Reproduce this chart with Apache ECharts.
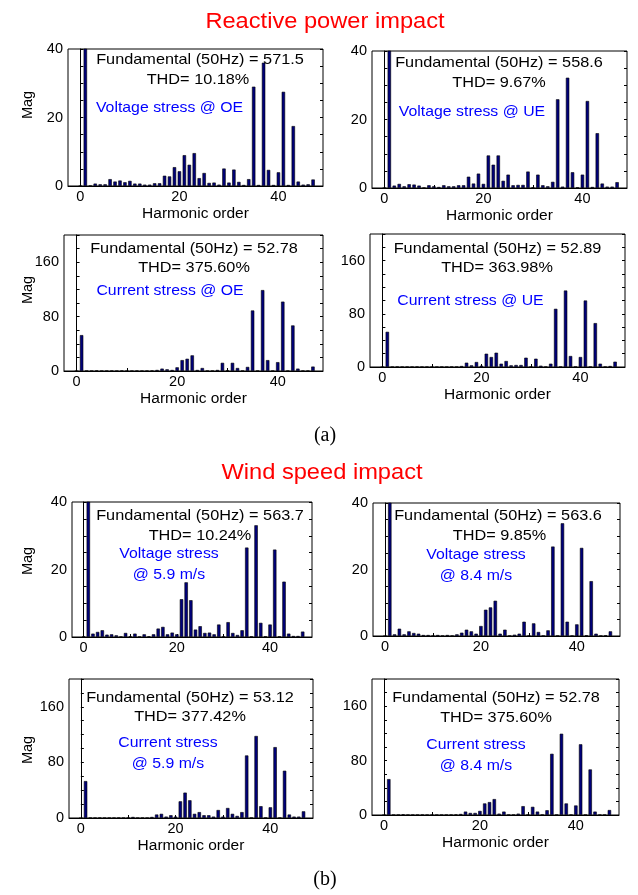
<!DOCTYPE html>
<html>
<head>
<meta charset="utf-8">
<script src="https://cdn.jsdelivr.net/npm/echarts@6/dist/echarts.min.js"></script>
<style>
html,body{margin:0;padding:0;background:#fff;}
#chart{width:638px;height:895px;}
</style>
</head>
<body>
<div id="chart"></div>
<script>
// ---------------- DATA ----------------
const harmonicOrder = [0,1,2,3,4,5,6,7,8,9,10,11,12,13,14,15,16,17,18,19,20,21,22,23,24,25,26,27,28,29,30,31,32,33,34,35,36,37,38,39,40,41,42,43,44,45,46,47];

// (a) Reactive power impact
const voltageOE = [0, 571.5, 0.1, 0.7, 0.5, 0.5, 2.0, 1.3, 1.6, 1.1, 1.5, 0.7, 0.7, 0.4, 0.4, 0.8, 0.8, 3.0, 2.8, 5.5, 4.3, 9.0, 6.2, 9.6, 2.3, 3.8, 0.9, 1.0, 0.4, 5.1, 1.0, 4.8, 1.2, 0.3, 2.0, 29, 0.3, 36, 4.7, 0.3, 4.0, 27.5, 0.3, 17.5, 1.3, 0.4, 0.5, 1.9];
const voltageUE = [0, 558.6, 0.7, 1.2, 0.5, 1.1, 1.0, 0.7, 0.1, 0.8, 0.5, 0.3, 0.8, 0.5, 0.5, 0.8, 0.8, 3.3, 1.3, 4.2, 1.2, 9.5, 6.8, 9.5, 2.1, 3.9, 0.8, 0.9, 0.9, 4.8, 0.2, 3.9, 0.8, 0.5, 1.8, 25.9, 0.4, 32.2, 4.6, 0.2, 3.9, 25.4, 0.3, 16, 1.3, 0.4, 0.4, 1.7];
const currentOE = [0, 52.78, 0.4, 0.3, 0.8, 0.3, 0.4, 0.5, 0.3, 0.6, 0.4, 0.3, 0.5, 0.3, 0.4, 0.6, 1.5, 3.5, 2.5, 1.5, 5.4, 16, 18, 23, 1.5, 4.4, 0.5, 0.5, 1.5, 12, 1.0, 12, 4.4, 0.5, 6.0, 89, 0.5, 119, 16, 0.5, 13, 102, 0.5, 67, 3.5, 0.5, 0.5, 6.5];
const currentUE = [0, 52.89, 0.3, 0.5, 0.3, 0.4, 0.3, 0.5, 0.3, 0.4, 0.3, 0.3, 0.4, 0.3, 0.5, 0.4, 1.5, 6.5, 2.5, 7.5, 2.0, 20, 15, 21.5, 5.0, 9.0, 2.5, 3.0, 3.0, 14, 0.5, 12.5, 2.0, 0.5, 5.0, 87.5, 0.5, 115, 16.5, 0.5, 15, 100, 0.5, 66, 5.0, 0.5, 1.5, 8.0];

// (b) Wind speed impact
const voltage59 = [0.2, 563.7, 1.0, 1.5, 2.0, 0.7, 0.8, 0.5, 0.1, 1.2, 0.2, 1.0, 0.1, 0.8, 0.2, 0.8, 2.5, 3.0, 0.8, 1.3, 0.8, 11.2, 16.2, 10.9, 2.2, 3.2, 1.2, 1.3, 0.8, 3.7, 0.1, 4.4, 1.2, 0.6, 2.0, 26.5, 0.2, 33.1, 4.2, 0.2, 3.7, 25.9, 0.2, 16.4, 1.0, 0.3, 0.3, 1.6];
const voltage84 = [0, 563.6, 0.5, 2.2, 0.5, 1.4, 0.9, 0.7, 0.3, 0.3, 0.1, 0.3, 0.1, 0.3, 0.1, 0.5, 1.0, 1.9, 1.4, 0.7, 3.0, 7.9, 8.6, 10.6, 0.7, 1.9, 0.1, 0.4, 0.7, 4.3, 0.1, 3.8, 1.2, 0.1, 1.7, 26.9, 0.1, 33.9, 4.3, 0.1, 3.5, 26.5, 0.2, 16.5, 0.7, 0.1, 0.2, 1.4];
const current59 = [0, 53.12, 0.4, 0.3, 0.5, 0.3, 0.4, 0.3, 0.5, 0.3, 0.4, 1.5, 0.3, 0.4, 0.3, 1.5, 5.0, 6.0, 2.0, 4.0, 2.0, 24, 36.5, 25.5, 6.0, 8.5, 4.0, 4.0, 2.0, 11.5, 2.0, 14.4, 6.0, 3.0, 8.5, 90, 0.5, 118, 17, 0.5, 15.4, 102, 0.5, 68, 5.0, 2.0, 2.0, 9.6];
const current84 = [0, 52.78, 0.3, 0.3, 1.0, 0.3, 0.4, 0.3, 0.5, 0.3, 0.4, 0.3, 0.3, 0.4, 0.5, 0.8, 1.5, 5.0, 3.0, 3.0, 6.0, 17, 19, 23.4, 2.0, 5.0, 0.5, 0.5, 2.0, 13, 0.5, 12, 5.0, 0.5, 7.0, 90, 0.5, 119.5, 17, 0.5, 14, 104, 0.5, 67, 5.0, 0.5, 0.5, 7.3];

const fundamentalLabels = ['Fundamental (50Hz) = 571.5','Fundamental (50Hz) = 558.6','Fundamental (50Hz) = 52.78','Fundamental (50Hz) = 52.89','Fundamental (50Hz) = 563.7','Fundamental (50Hz) = 563.6','Fundamental (50Hz) = 53.12','Fundamental (50Hz) = 52.78'];
const thdLabels = ['THD= 10.18%','THD= 9.67%','THD= 375.60%','THD= 363.98%','THD= 10.24%','THD= 9.85%','THD= 377.42%','THD= 375.60%'];
const stressLabels = ['Voltage stress @ OE','Voltage stress @ UE','Current stress @ OE','Current stress @ UE','Voltage stress\n@ 5.9 m/s','Voltage stress\n@ 8.4 m/s','Current stress\n@ 5.9 m/s','Current stress\n@ 8.4 m/s'];

const xTickLabels = [0, 20, 40];
const xTickMarks = [0, 10, 20, 30, 40];
const voltageTickLabels = [0, 20, 40];
const currentTickLabels = [0, 80, 160];
const panelTitles = ['Reactive power impact', 'Wind speed impact'];
const subLabels = ['(a)', '(b)'];
const xAxisTitle = 'Harmonic order';
const yAxisTitle = 'Mag';

// ---------------- LAYOUT ----------------
const FONT = "'Liberation Sans', Arial, Helvetica, sans-serif";
const SERIF = "'Liberation Serif', 'Times New Roman', serif";

const panels = [
  {data: voltageOE, kind: 'v', l: 68,  t: 49,  w: 255, h: 137, xname: true,  f: [200, 60],  th: [198, 80],  s: [169.5, 108]},
  {data: voltageUE, kind: 'v', l: 372, t: 51,  w: 255, h: 137, xname: true,  f: [499, 63],  th: [499, 83],  s: [472, 112]},
  {data: currentOE, kind: 'i', l: 64,  t: 235, w: 259, h: 136, xname: true,  f: [194, 249], th: [194, 268], s: [170, 291]},
  {data: currentUE, kind: 'i', l: 370, t: 234, w: 255, h: 133, xname: true,  f: [497.5, 249], th: [497, 268], s: [470.5, 301]},
  {data: voltage59, kind: 'v', l: 72,  t: 502, w: 240, h: 135, xname: false, f: [200, 516], th: [200, 536], s: [169, 554]},
  {data: voltage84, kind: 'v', l: 373, t: 503, w: 247, h: 133, xname: false, f: [498, 516], th: [499.5, 536], s: [476, 555]},
  {data: current59, kind: 'i', l: 69,  t: 679, w: 244, h: 139, xname: true,  f: [190, 698], th: [190, 717], s: [168, 743]},
  {data: current84, kind: 'i', l: 372, t: 679, w: 247, h: 136, xname: true,  f: [496, 698], th: [496, 718], s: [476, 745]}
];
const magPos = [[28, 105], [28, 290], [28, 561], [28, 750]];

const grids = [], xAxes = [], yAxes = [], series = [], graphics = [];

panels.forEach((p, i) => {
  const isV = p.kind === 'v';
  const yMax = isV ? 40 : 200;
  const yInt = isV ? 5 : 20;
  const labelSet = isV ? voltageTickLabels : currentTickLabels;
  grids.push({left: p.l, top: p.t, width: p.w, height: p.h, show: true, borderColor: '#000', borderWidth: 1, backgroundColor: 'transparent', containLabel: false});
  xAxes.push({
    type: 'value', gridIndex: i, min: -2.5, max: 49,
    axisLine: {show: true, lineStyle: {color: '#000', width: 1}},
    axisTick: {show: true, inside: true, length: 3, customValues: xTickMarks, lineStyle: {color: '#000'}},
    axisLabel: {show: true, customValues: xTickLabels, margin: 3, color: '#000', fontSize: 14.5, fontFamily: FONT},
    splitLine: {show: false},
    name: p.xname ? xAxisTitle : '', nameLocation: 'middle', nameGap: 20,
    nameTextStyle: {color: '#000', fontSize: 15.5, fontFamily: FONT}
  });
  yAxes.push({
    type: 'value', gridIndex: i, min: 0, max: yMax, interval: yInt, position: 'left',
    axisLine: {show: true, lineStyle: {color: '#000', width: 1}},
    axisTick: {show: true, inside: true, length: 3, lineStyle: {color: '#000'}},
    axisLabel: {show: true, margin: 5, color: '#000', fontSize: 14.5, fontFamily: FONT,
      formatter: v => labelSet.indexOf(v) >= 0 ? String(v) : ''},
    splitLine: {show: false}
  });
  yAxes.push({
    type: 'value', gridIndex: i, min: 0, max: yMax, interval: yInt, position: 'right',
    axisLine: {show: false},
    axisTick: {show: true, inside: true, length: 3, lineStyle: {color: '#000'}},
    axisLabel: {show: false},
    splitLine: {show: false}
  });
  series.push({
    type: 'bar', xAxisIndex: i, yAxisIndex: 2 * i, clip: true, silent: true,
    barWidth: 3.4,
    itemStyle: {color: '#00007a', borderColor: '#000', borderWidth: 0.6},
    data: harmonicOrder.map((h, k) => [h, p.data[k]])
  });

  const txt = (str, x, y, color, size) => ({
    type: 'text', x: x, y: y, scaleX: 1.1, scaleY: 1, silent: true, z: 10,
    style: {text: str, fill: color, fontSize: size, fontFamily: FONT,
      align: 'center', verticalAlign: 'middle', textAlign: 'center', textVerticalAlign: 'middle'}
  });
  graphics.push(txt(fundamentalLabels[i], p.f[0], p.f[1], '#000', 14.8));
  graphics.push(txt(thdLabels[i], p.th[0], p.th[1], '#000', 14.8));
  stressLabels[i].split('\n').forEach((line, j) => {
    graphics.push(txt(line, p.s[0], p.s[1] + j * 21, '#0000ff', 14.4));
  });
});

magPos.forEach(m => {
  graphics.push({type: 'text', x: m[0], y: m[1], rotation: Math.PI / 2, silent: true,
    style: {text: yAxisTitle, fill: '#000', fontSize: 14.5, fontFamily: FONT,
      align: 'center', verticalAlign: 'middle', textAlign: 'center', textVerticalAlign: 'middle'}});
});

const titlePos = [[325, 22], [322, 473]];
panelTitles.forEach((t, i) => {
  graphics.push({type: 'text', x: titlePos[i][0], y: titlePos[i][1], scaleX: 1.1, silent: true,
    style: {text: t, fill: '#ff0000', fontSize: 21.5, fontFamily: FONT,
      align: 'center', verticalAlign: 'middle', textAlign: 'center', textVerticalAlign: 'middle'}});
});
const subPos = [[325, 436], [325, 880]];
subLabels.forEach((t, i) => {
  graphics.push({type: 'text', x: subPos[i][0], y: subPos[i][1], silent: true,
    style: {text: t, fill: '#000', fontSize: 20, fontFamily: SERIF,
      align: 'center', verticalAlign: 'middle', textAlign: 'center', textVerticalAlign: 'middle'}});
});

const chart = echarts.init(document.getElementById('chart'), null, {renderer: 'canvas'});
chart.setOption({
  animation: false,
  backgroundColor: '#fff',
  grid: grids,
  xAxis: xAxes,
  yAxis: yAxes,
  series: series,
  graphic: {elements: graphics}
});
</script>
</body>
</html>
